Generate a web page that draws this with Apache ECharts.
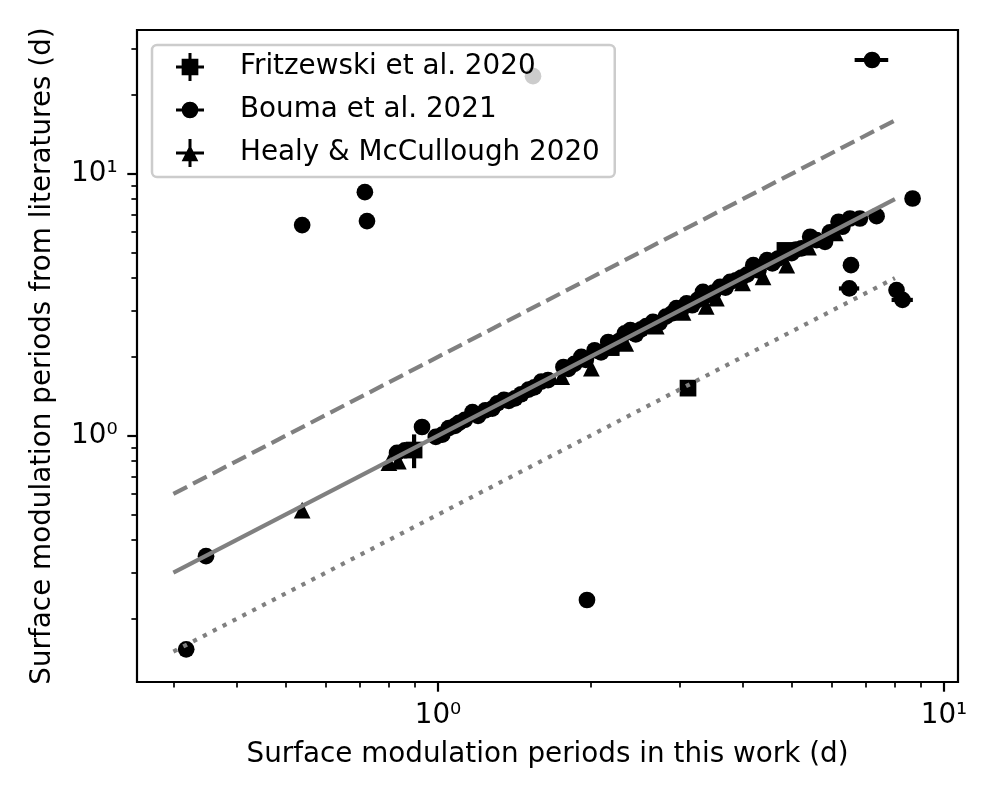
<!DOCTYPE html>
<html>
<head>
<meta charset="utf-8">
<script src="https://cdn.jsdelivr.net/npm/echarts@6/dist/echarts.min.js"></script>
<style>
  html, body { margin: 0; padding: 0; background: #fff; }
  #chart { width: 1000px; height: 800px; }
</style>
</head>
<body>
<div id="chart"></div>
<script>
// periods in this work (x) vs. periods from literature (y), days
const fritThis = [0.897, 3.12, 4.85, 2.20];
const fritLit  = [0.882, 1.52, 5.10, 2.17];

const boumaThis = [0.83, 0.86, 0.93, 0.99, 1.02, 1.05, 1.08, 1.10, 1.13, 1.17, 1.20, 1.24, 1.28, 1.31,
  1.35, 1.38, 1.42, 1.46, 1.51, 1.55, 1.60, 1.65, 1.77, 1.81, 1.86, 1.92, 1.96, 2.04, 2.10, 2.17,
  2.22, 2.28, 2.34, 2.40, 2.46, 2.52, 2.58, 2.66, 2.74, 2.82, 2.90, 2.96, 3.02, 3.10, 3.18, 3.26,
  3.34, 3.42, 3.50, 3.61, 3.70, 3.78, 3.88, 3.98, 4.08, 4.20, 4.30, 4.47, 4.58, 4.70, 4.89, 5.00,
  5.10, 5.23, 5.44, 5.60, 5.82, 5.95, 6.19, 6.30, 6.52, 6.82, 7.36, 8.67,
  0.318, 0.348, 0.539, 0.717, 0.724, 1.541, 1.97, 7.21, 6.55, 6.50, 8.06, 8.28];
const boumaLit = [0.86, 0.88, 1.08, 0.99, 1.01, 1.07, 1.09, 1.12, 1.15, 1.23, 1.19, 1.25, 1.27, 1.33,
  1.37, 1.36, 1.39, 1.44, 1.50, 1.53, 1.61, 1.63, 1.83, 1.80, 1.88, 2.00, 1.95, 2.12, 2.08, 2.28,
  2.20, 2.30, 2.46, 2.53, 2.44, 2.55, 2.62, 2.72, 2.70, 2.85, 2.93, 3.07, 3.00, 3.20, 3.15, 3.30,
  3.54, 3.45, 3.52, 3.70, 3.68, 3.87, 3.92, 4.02, 4.12, 4.48, 4.28, 4.68, 4.55, 4.75, 5.04, 4.98,
  5.14, 5.19, 5.75, 5.58, 5.50, 5.98, 6.56, 6.28, 6.75, 6.75, 6.89, 8.05,
  0.153, 0.347, 6.37, 8.51, 6.60, 23.6, 0.236, 27.2, 4.48, 3.65, 3.60, 3.30];

const healyThis = [0.539, 0.80, 0.835, 1.756, 2.01, 2.35, 2.70, 3.05, 3.39, 3.55, 4.00, 4.39, 4.89, 5.40, 6.10];
const healyLit  = [0.520, 0.79, 0.80, 1.68, 1.81, 2.25, 2.62, 2.96, 3.12, 3.35, 3.83, 4.04, 4.48, 5.25, 5.95];

// error bars that are large enough to see
const errThis = [0.897, 7.21, 6.50, 8.28];
const errLit  = [0.882, 27.2, 3.65, 3.30];
const errDx   = [0, 0.55, 0.30, 0.40];
const errDy   = [0.13, 0, 0, 0];

// reference lines: 1:1, 2:1, 1:2
const lineOne  = [[0.3, 0.3], [8, 8]];
const lineTwo  = [[0.3, 0.6], [8, 16]];
const lineHalf = [[0.3, 0.15], [8, 4]];

const xMajor = [1, 10];
const xMinor = [0.3, 0.4, 0.5, 0.6, 0.7, 0.8, 0.9, 2, 3, 4, 5, 6, 7, 8, 9];
const yMajor = [1, 10];
const yMinor = [0.2, 0.3, 0.4, 0.5, 0.6, 0.7, 0.8, 0.9, 2, 3, 4, 5, 6, 7, 8, 9, 20, 30];
const tickText = { 1: '10\u2070', 10: '10\u00b9' };

const FONT = 'DejaVu Sans';
const FS = 27.8;

function zip(a, b) { return a.map((v, i) => [v, b[i]]); }

// legend icons in a 56x28 box (corner points keep the box size)
const box = 'M0 0 L0 0.01 M56 28 L56 27.99 ';
const iconSquare = 'path://' + box +
  'M14 12.5 L42 12.5 L42 15.5 L14 15.5 Z M26.5 0 L29.5 0 L29.5 28 L26.5 28 Z ' +
  'M19.65 5.65 L36.35 5.65 L36.35 22.35 L19.65 22.35 Z';
const iconCircle = 'path://' + box +
  'M14 12.5 L42 12.5 L42 15.5 L14 15.5 Z ' +
  'M36.35 14 A8.35 8.35 0 1 1 19.65 14 A8.35 8.35 0 1 1 36.35 14 Z';
const iconTri = 'path://' + box +
  'M14 12.5 L42 12.5 L42 15.5 L14 15.5 Z M26.5 0 L29.5 0 L29.5 28 L26.5 28 Z ' +
  'M28 5.65 L36.35 22.35 L19.65 22.35 Z';

const limits = { x: [0.2542, 10.66], y: [0.1148, 35.4] };

function mainAxis(lim, major, isX) {
  return {
    type: 'log', logBase: 10, min: lim[0], max: lim[1],
    position: isX ? 'bottom' : 'left',
    name: isX ? 'Surface modulation periods in this work (d)' : 'Surface modulation periods from literatures (d)',
    nameLocation: 'middle', nameGap: isX ? 59 : 80,
    nameTextStyle: { fontFamily: FONT, fontSize: FS, color: '#000' },
    axisLine: { show: false },
    splitLine: { show: false },
    minorTick: { show: false },
    axisTick: { show: true, inside: false, length: 9.7, customValues: major,
      lineStyle: { color: '#000', width: 2.2 } },
    axisLabel: { show: true, customValues: major, margin: 19.4,
      fontFamily: FONT, fontSize: FS, color: '#000',
      formatter: v => tickText[Math.round(v)] || '' }
  };
}
function minorAxis(lim, minor, isX) {
  return {
    type: 'log', logBase: 10, min: lim[0], max: lim[1],
    position: isX ? 'bottom' : 'left',
    axisLine: { show: false },
    splitLine: { show: false },
    axisLabel: { show: false },
    axisTick: { show: true, inside: false, length: 5.6, customValues: minor,
      lineStyle: { color: '#000', width: 1.7 } }
  };
}

function renderErr(params, api) {
  const x = api.value(0), y = api.value(1), dx = api.value(2), dy = api.value(3);
  const st = { stroke: '#000', lineWidth: 4.2 };
  const kids = [];
  if (dx > 0) {
    const a = api.coord([x - dx, y]), b = api.coord([x + dx, y]);
    kids.push({ type: 'line', shape: { x1: a[0], y1: a[1], x2: b[0], y2: b[1] }, style: st });
  }
  if (dy > 0) {
    const a = api.coord([x, y - dy]), b = api.coord([x, y + dy]);
    kids.push({ type: 'line', shape: { x1: a[0], y1: a[1], x2: b[0], y2: b[1] }, style: st });
  }
  return { type: 'group', children: kids };
}

function refLine(data, dash) {
  return {
    type: 'line', data: data, symbol: 'none', silent: true, z: 5,
    lineStyle: { color: '#808080', width: 4.2, type: dash, cap: 'butt' }
  };
}

const mark = 16.7;
const chart = echarts.init(document.getElementById('chart'), null, { renderer: 'canvas' });
chart.setOption({
  animation: false,
  backgroundColor: '#fff',
  grid: { left: 137, right: 42, top: 30, bottom: 118, show: true,
    borderColor: '#000', borderWidth: 2.2, backgroundColor: 'transparent',
    containLabel: false, outerBoundsMode: 'none' },
  xAxis: [mainAxis(limits.x, xMajor, true), minorAxis(limits.x, xMinor, true)],
  yAxis: [mainAxis(limits.y, yMajor, false), minorAxis(limits.y, yMinor, false)],
  legend: {
    orient: 'vertical', left: 152, top: 45,
    padding: [8, 15, 10, 10], itemGap: 15, itemWidth: 56, itemHeight: 28,
    backgroundColor: 'rgba(255,255,255,0.8)', borderColor: '#cccccc',
    borderWidth: 2.5, borderRadius: 5, z: 10,
    textStyle: { fontFamily: FONT, fontSize: FS, color: '#000', lineHeight: 28, padding: [0, 0, 0, 17] },
    data: [
      { name: 'Fritzewski et al. 2020', icon: iconSquare },
      { name: 'Bouma et al. 2021', icon: iconCircle },
      { name: 'Healy & McCullough 2020', icon: iconTri }
    ]
  },
  series: [
    {
      type: 'custom', name: 'errors', renderItem: renderErr, silent: true, z: 2,
      encode: { x: 0, y: 1 },
      data: errThis.map((v, i) => [v, errLit[i], errDx[i], errDy[i]])
    },
    {
      type: 'scatter', name: 'Fritzewski et al. 2020', symbol: 'rect', symbolSize: mark, z: 2,
      itemStyle: { color: '#000', opacity: 1 }, data: zip(fritThis, fritLit)
    },
    {
      type: 'scatter', name: 'Bouma et al. 2021', symbol: 'circle', symbolSize: mark, z: 2,
      itemStyle: { color: '#000', opacity: 1 }, data: zip(boumaThis, boumaLit)
    },
    {
      type: 'scatter', name: 'Healy & McCullough 2020', symbol: 'triangle', symbolSize: mark, z: 2,
      itemStyle: { color: '#000', opacity: 1 }, data: zip(healyThis, healyLit)
    },
    refLine(lineOne, 'solid'),
    refLine(lineTwo, [15.4, 6.7]),
    refLine(lineHalf, [4.2, 6.9])
  ]
});
</script>
</body>
</html>
